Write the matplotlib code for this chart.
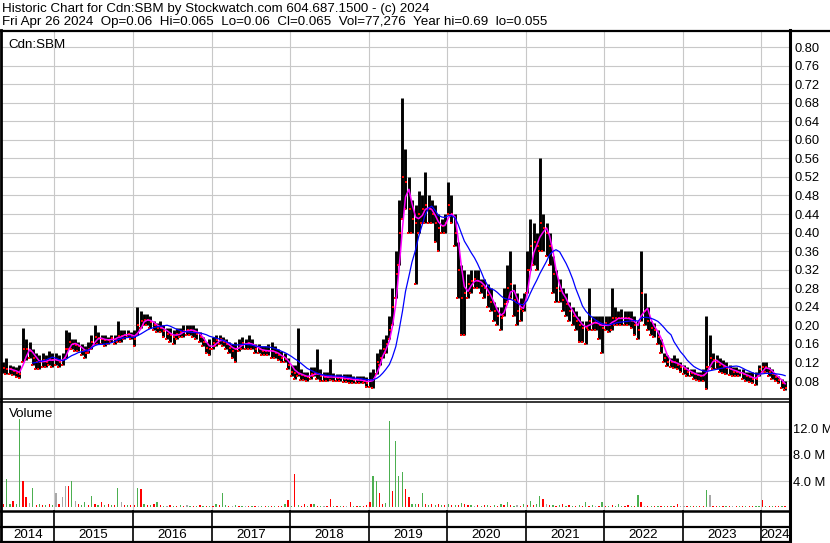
import numpy as np
import pandas as pd
import matplotlib
matplotlib.use("Agg")
import matplotlib.pyplot as plt

plt.rcParams['font.family'] = ['Liberation Sans', 'DejaVu Sans']

W, H = 830, 543

# semi-monthly samples, May 2014 .. Apr 2024
hi = [
    # 2014
    0.12, 0.13, 0.115, 0.112, 0.11, 0.115, 0.195, 0.17, 0.165, 0.15, 0.14, 0.135, 0.14, 0.135, 0.145, 0.14,
    # 2015
    0.14, 0.135, 0.14, 0.19, 0.185, 0.17, 0.17, 0.165, 0.16, 0.155, 0.165, 0.18,
    0.20, 0.185, 0.18, 0.18, 0.175, 0.18, 0.18, 0.21, 0.19, 0.19, 0.19, 0.185,
    # 2016
    0.19, 0.24, 0.23, 0.225, 0.225, 0.22, 0.21, 0.205, 0.21, 0.2, 0.195, 0.195,
    0.19, 0.195, 0.195, 0.2, 0.2, 0.2, 0.2, 0.195, 0.185, 0.175, 0.165, 0.17,
    # 2017
    0.175, 0.18, 0.18, 0.175, 0.17, 0.165, 0.16, 0.165, 0.17, 0.175, 0.17, 0.18,
    0.17, 0.16, 0.16, 0.155, 0.155, 0.16, 0.165, 0.155, 0.15, 0.145, 0.14, 0.13,
    # 2018
    0.115, 0.115, 0.195, 0.105, 0.1, 0.1, 0.11, 0.11, 0.148, 0.105, 0.1, 0.1,
    0.127, 0.098, 0.095, 0.095, 0.095, 0.095, 0.095, 0.09, 0.09, 0.09, 0.09, 0.088,
    # 2019
    0.10, 0.105, 0.14, 0.15, 0.17, 0.18, 0.22, 0.28, 0.36, 0.47, 0.69, 0.58,
    0.52, 0.47, 0.46, 0.49, 0.48, 0.53, 0.48, 0.47, 0.46, 0.44, 0.43, 0.44,
    # 2020
    0.51, 0.48, 0.44, 0.38, 0.33, 0.32, 0.31, 0.32, 0.32, 0.32, 0.30, 0.30,
    0.29, 0.28, 0.25, 0.24, 0.24, 0.28, 0.33, 0.36, 0.29, 0.27, 0.26, 0.27,
    # 2021
    0.36, 0.43, 0.42, 0.40, 0.56, 0.44, 0.42, 0.40, 0.35, 0.32, 0.30, 0.28,
    0.27, 0.25, 0.24, 0.23, 0.22, 0.21, 0.21, 0.28, 0.22, 0.22, 0.22, 0.22,
    # 2022
    0.22, 0.22, 0.28, 0.24, 0.23, 0.235, 0.23, 0.23, 0.23, 0.22, 0.21, 0.36,
    0.27, 0.24, 0.21, 0.205, 0.19, 0.17, 0.14, 0.135, 0.13, 0.135, 0.13, 0.12,
    # 2023
    0.115, 0.11, 0.105, 0.105, 0.1, 0.1, 0.105, 0.22, 0.18, 0.14, 0.135, 0.13,
    0.125, 0.12, 0.115, 0.11, 0.11, 0.105, 0.105, 0.1, 0.1, 0.1, 0.1, 0.115,
    # 2024
    0.12, 0.12, 0.11, 0.105, 0.095, 0.09, 0.085, 0.08,
]

lo = [
    # 2014
    0.097, 0.095, 0.095, 0.094, 0.088, 0.086, 0.12, 0.125, 0.13, 0.115, 0.105, 0.105, 0.11, 0.11, 0.115, 0.11,
    # 2015
    0.115, 0.11, 0.115, 0.13, 0.15, 0.15, 0.145, 0.145, 0.135, 0.13, 0.14, 0.15,
    0.16, 0.16, 0.16, 0.155, 0.16, 0.165, 0.16, 0.165, 0.165, 0.17, 0.175, 0.17,
    # 2016
    0.155, 0.18, 0.195, 0.2, 0.2, 0.195, 0.19, 0.185, 0.185, 0.175, 0.17, 0.165,
    0.16, 0.17, 0.175, 0.175, 0.18, 0.18, 0.175, 0.17, 0.165, 0.155, 0.14, 0.135,
    # 2017
    0.15, 0.155, 0.16, 0.155, 0.15, 0.14, 0.13, 0.12, 0.145, 0.15, 0.15, 0.15,
    0.15, 0.14, 0.14, 0.135, 0.135, 0.135, 0.13, 0.13, 0.125, 0.12, 0.12, 0.105,
    # 2018
    0.09, 0.085, 0.09, 0.083, 0.083, 0.08, 0.085, 0.09, 0.085, 0.08, 0.08, 0.08,
    0.082, 0.08, 0.08, 0.08, 0.078, 0.078, 0.075, 0.075, 0.075, 0.075, 0.075, 0.068,
    # 2019
    0.068, 0.065, 0.095, 0.115, 0.13, 0.14, 0.17, 0.2, 0.26, 0.33, 0.43, 0.45,
    0.40, 0.40, 0.29, 0.40, 0.42, 0.42, 0.42, 0.42, 0.38, 0.36, 0.40, 0.40,
    # 2020
    0.44, 0.42, 0.37, 0.26, 0.18, 0.18, 0.26, 0.27, 0.28, 0.28, 0.27, 0.26,
    0.24, 0.23, 0.21, 0.20, 0.19, 0.22, 0.25, 0.26, 0.22, 0.20, 0.21, 0.23,
    # 2021
    0.27, 0.32, 0.33, 0.32, 0.36, 0.36, 0.35, 0.33, 0.27, 0.25, 0.25, 0.23,
    0.22, 0.21, 0.20, 0.19, 0.165, 0.165, 0.16, 0.19, 0.19, 0.19, 0.17, 0.14,
    # 2022
    0.19, 0.185, 0.19, 0.20, 0.20, 0.20, 0.20, 0.20, 0.195, 0.18, 0.17, 0.21,
    0.20, 0.19, 0.18, 0.175, 0.16, 0.14, 0.12, 0.112, 0.11, 0.108, 0.105, 0.10,
    # 2023
    0.095, 0.09, 0.09, 0.085, 0.083, 0.08, 0.08, 0.062, 0.11, 0.105, 0.105, 0.1,
    0.098, 0.095, 0.093, 0.09, 0.09, 0.09, 0.085, 0.08, 0.078, 0.075, 0.072, 0.09,
    # 2024
    0.1, 0.1, 0.09, 0.085, 0.08, 0.075, 0.065, 0.06,
]

cl = [
    # 2014
    0.108, 0.105, 0.105, 0.102, 0.098, 0.095, 0.15, 0.15, 0.145, 0.13, 0.12, 0.12, 0.125, 0.122, 0.128, 0.125,
    # 2015
    0.125, 0.122, 0.125, 0.15, 0.165, 0.16, 0.158, 0.155, 0.145, 0.14, 0.15, 0.165,
    0.175, 0.172, 0.17, 0.168, 0.168, 0.172, 0.17, 0.178, 0.178, 0.18, 0.182, 0.178,
    # 2016
    0.17, 0.2, 0.21, 0.212, 0.212, 0.208, 0.2, 0.195, 0.195, 0.188, 0.182, 0.18,
    0.175, 0.182, 0.185, 0.188, 0.19, 0.19, 0.188, 0.182, 0.175, 0.165, 0.152, 0.15,
    # 2017
    0.162, 0.168, 0.17, 0.165, 0.16, 0.152, 0.145, 0.15, 0.158, 0.162, 0.16, 0.162,
    0.158, 0.15, 0.148, 0.145, 0.145, 0.145, 0.145, 0.14, 0.135, 0.13, 0.128, 0.115,
    # 2018
    0.1, 0.098, 0.095, 0.092, 0.09, 0.088, 0.095, 0.098, 0.095, 0.09, 0.088, 0.088,
    0.09, 0.088, 0.087, 0.087, 0.085, 0.085, 0.084, 0.082, 0.082, 0.082, 0.08, 0.076,
    # 2019
    0.082, 0.085, 0.12, 0.13, 0.15, 0.16, 0.19, 0.24, 0.31, 0.40, 0.52, 0.51,
    0.45, 0.43, 0.42, 0.44, 0.45, 0.46, 0.45, 0.44, 0.42, 0.41, 0.415, 0.42,
    # 2020
    0.46, 0.44, 0.40, 0.32, 0.26, 0.27, 0.29, 0.295, 0.30, 0.295, 0.285, 0.28,
    0.265, 0.25, 0.23, 0.22, 0.215, 0.245, 0.28, 0.29, 0.255, 0.23, 0.235, 0.245,
    # 2021
    0.32, 0.37, 0.38, 0.37, 0.42, 0.41, 0.40, 0.37, 0.31, 0.28, 0.275, 0.255,
    0.245, 0.23, 0.22, 0.21, 0.2, 0.195, 0.195, 0.21, 0.205, 0.205, 0.2, 0.195,
    # 2022
    0.205, 0.2, 0.215, 0.215, 0.215, 0.215, 0.215, 0.215, 0.21, 0.2, 0.19, 0.27,
    0.23, 0.21, 0.195, 0.19, 0.175, 0.155, 0.13, 0.122, 0.12, 0.12, 0.115, 0.11,
    # 2023
    0.105, 0.1, 0.097, 0.095, 0.092, 0.09, 0.092, 0.11, 0.13, 0.125, 0.12, 0.115,
    0.11, 0.108, 0.105, 0.1, 0.1, 0.097, 0.095, 0.09, 0.088, 0.085, 0.085, 0.105,
    # 2024
    0.11, 0.11, 0.1, 0.095, 0.088, 0.082, 0.075, 0.065,
]

# volume in millions, colour g=up r=down k=unchanged
vol = [
    # 2014
    0.4, 4.3, 0.5, 1.0, 0.4, 13.6, 4.0, 1.5, 0.6, 3.0, 0.3, 0.4, 0.3, 0.3, 0.4, 0.3,
    # 2015
    2.2, 0.5, 1.6, 3.3, 3.3, 4.0, 0.9, 0.4, 0.3, 0.7, 0.3, 1.7,
    0.4, 0.3, 0.7, 0.3, 0.4, 0.3, 0.3, 2.9, 0.8, 0.3, 0.3, 0.3,
    # 2016
    0.3, 3.0, 2.7, 0.4, 0.3, 0.3, 0.4, 0.7, 0.3, 0.2, 0.2, 0.3,
    0.2, 0.2, 0.3, 0.2, 0.3, 0.2, 0.2, 0.2, 0.3, 0.2, 0.2, 0.2,
    # 2017
    0.2, 0.5, 0.3, 2.2, 0.3, 0.2, 0.2, 0.3, 0.2, 0.2, 0.15, 0.2,
    0.15, 0.2, 0.15, 0.2, 0.15, 0.2, 0.2, 0.15, 0.2, 0.2, 0.5, 1.1,
    # 2018
    0.2, 5.0, 0.3, 0.2, 0.5, 0.2, 0.5, 0.5, 0.2, 0.2, 0.15, 0.2,
    1.3, 0.2, 0.2, 0.15, 0.2, 0.2, 0.8, 0.2, 0.15, 0.2, 0.2, 0.3,
    # 2019
    0.7, 4.8, 4.0, 2.2, 0.5, 0.6, 13.3, 2.5, 10.2, 4.7, 5.4, 2.8,
    1.5, 0.5, 0.5, 0.4, 2.1, 0.4, 0.3, 0.4, 0.3, 0.4, 0.3, 0.3,
    # 2020
    0.4, 0.3, 0.3, 0.3, 0.6, 0.5, 0.3, 0.3, 0.2, 0.3, 0.2, 0.3,
    0.3, 0.2, 0.3, 0.2, 0.5, 0.3, 0.8, 0.3, 0.2, 0.3, 0.2, 0.4,
    # 2021
    0.3, 1.0, 0.3, 0.4, 1.7, 1.2, 0.4, 0.3, 0.3, 0.2, 0.3, 0.4,
    0.2, 0.3, 0.2, 0.2, 0.3, 0.2, 0.8, 0.2, 0.3, 0.2, 0.2, 0.7,
    # 2022
    0.2, 0.2, 0.3, 0.2, 0.4, 0.2, 0.2, 0.3, 0.2, 0.2, 1.8, 0.8,
    0.2, 0.2, 0.15, 0.2, 0.15, 0.2, 0.15, 0.2, 0.2, 0.15, 0.4, 0.2,
    # 2023
    0.2, 0.15, 0.15, 0.2, 0.15, 0.15, 0.2, 2.6, 1.9, 0.2, 0.15, 0.15,
    0.1, 0.15, 0.1, 0.15, 0.1, 0.15, 0.15, 0.1, 0.15, 0.1, 0.2, 0.15,
    # 2024
    1.1, 0.2, 0.15, 0.2, 0.2, 0.15, 0.2, 0.1,
]

vol_col = ("rggrggrrkgrgrgrg"
           "krkkrgkrggrgrgrgrgrgkrgr"
           "rgrgrgrgrgkrgrgrkgrgrgrg"
           "rgrggrkgrgkrgrkgrgrgrrgr"
           "grgrrgrgrgkrrgrgrkrgrgrr"
           "rggrrggrgggrrggrgrgrgrgr"
           "grgrgrrgkrgrgrgrgrgrgkrg"
           "rgrggrkrgrgrgrgrgrgrgkrg"
           "rgrgggrrgrgrkrgrgrgrgrrk"
           "krgrgrrgkrrgrgrkrgrgrrgg"
           "rgrgrrgr")

price_ticks = [0.08, 0.12, 0.16, 0.20, 0.24, 0.28, 0.32, 0.36, 0.40, 0.44,
               0.48, 0.52, 0.56, 0.60, 0.64, 0.68, 0.72, 0.76, 0.80]
vol_ticks = [4, 8, 12]
vol_tick_labels = ["4.0 M", "8.0 M", "12.0 M"]
years = list(range(2014, 2025))

header1 = "Historic Chart for Cdn:SBM by Stockwatch.com 604.687.1500 - (c) 2024"
header2 = ("Fri Apr 26 2024  Op=0.06  Hi=0.065  Lo=0.06  Cl=0.065  "
           "Vol=77,276  Year hi=0.69  lo=0.055")

dates = pd.date_range("2014-05-01", periods=len(hi), freq="SMS") + pd.Timedelta(days=7)
ma_short = pd.Series(cl).rolling(3).mean()
ma_long = pd.Series(cl).rolling(10).mean()

colour_map = {"g": "#4caf50", "r": "#ff0000", "k": "#a8a8a8"}
bar_colours = [colour_map[c] for c in vol_col]

xmin = pd.Timestamp("2014-05-02")
xmax = pd.Timestamp("2024-05-10")
year_starts = [pd.Timestamp(f"{y}-01-01") for y in years[1:]]

fig = plt.figure(figsize=(W / 100, H / 100), dpi=100)


def px_axes(x0, y0, x1, y1, **kw):
    return fig.add_axes([x0 / W, 1 - y1 / H, (x1 - x0) / W, (y1 - y0) / H], **kw)


grid_kw = dict(color="#c8c8c8", lw=0.8)

# price panel
ax = px_axes(2, 31, 789, 399)
ax.vlines(dates, lo, hi, color="black", lw=2.1, zorder=2)
ax.scatter(dates + pd.Timedelta(days=4), cl, marker="s", s=4, color="red", lw=0, zorder=3)
ax.scatter(dates - pd.Timedelta(days=4), lo, marker="s", s=3, color="red", lw=0, zorder=3)
ax.plot(dates, ma_short, color="#ff00ff", lw=1.1, zorder=4)
ax.plot(dates, ma_long, color="#0000ff", lw=0.9, zorder=5)
ax.set_xlim(xmin, xmax)
ax.set_ylim(0.0412, 0.8345)
ax.set_yticks(price_ticks)
ax.set_yticklabels([f"{p:.2f}" for p in price_ticks])
ax.set_xticks(year_starts)
ax.set_xticklabels([])
ax.yaxis.tick_right()
ax.tick_params(axis="both", length=0, labelsize=9.3, pad=4)
ax.grid(True, **grid_kw)
ax.set_axisbelow(True)
for s in ax.spines.values():
    s.set_visible(False)
ax.text(0.008, 0.978, "Cdn:SBM", transform=ax.transAxes, fontsize=9.6, va="top", ha="left")

# volume panel
vax = px_axes(2, 402, 789, 510)
vax.bar(dates, vol, width=6, color=bar_colours, lw=0, zorder=2)
vax.set_xlim(xmin, xmax)
vax.set_ylim(-0.46, 16.15)
vax.set_yticks(vol_ticks)
vax.set_yticklabels(vol_tick_labels)
vax.set_xticks(year_starts)
vax.set_xticklabels([])
vax.yaxis.tick_right()
vax.tick_params(axis="both", length=0, labelsize=9.3, pad=3)
vax.grid(True, **grid_kw)
vax.set_axisbelow(True)
for s in vax.spines.values():
    s.set_visible(False)
vax.text(0.009, 0.94, "Volume", transform=vax.transAxes, fontsize=9.6, va="top", ha="left")

# year strip
yax = px_axes(2, 510, 789, 543)
yax.set_xlim(xmin, xmax)
yax.set_ylim(0, 1)
yax.axis("off")
yax.vlines(year_starts, 0, 1, color="black", lw=1.2)
for y in years:
    a = max(pd.Timestamp(f"{y}-01-01"), xmin)
    b = min(pd.Timestamp(f"{y + 1}-01-01"), xmax)
    yax.text(a + (b - a) / 2, 0.24, str(y), fontsize=9.6, ha="center", va="center")

# frame lines in pixel coordinates
frame = fig.add_axes([0, 0, 1, 1], zorder=10)
frame.set_xlim(0, W)
frame.set_ylim(H, 0)
frame.axis("off")
frame.patch.set_alpha(0)
frame.plot([0, W], [30.5, 30.5], color="black", lw=1.6)
frame.plot([1, 1], [30, H], color="black", lw=2.0)
frame.plot([789.5, 789.5], [30, H], color="black", lw=2.2)
frame.plot([0, 789], [399, 399], color="black", lw=1.1)
frame.plot([0, 789], [402, 402], color="black", lw=1.1)
frame.plot([0, 789], [510.5, 510.5], color="black", lw=1.8)
frame.plot([0, 789], [527, 527], color="black", lw=1.6)
frame.plot([0, 789], [541.5, 541.5], color="black", lw=1.6)

fig.text(2 / W, 1 - 9 / H, header1, fontsize=9.6, va="center", ha="left")
fig.text(2 / W, 1 - 22 / H, header2, fontsize=9.6, va="center", ha="left")

fig.savefig("out.png", dpi=100)
